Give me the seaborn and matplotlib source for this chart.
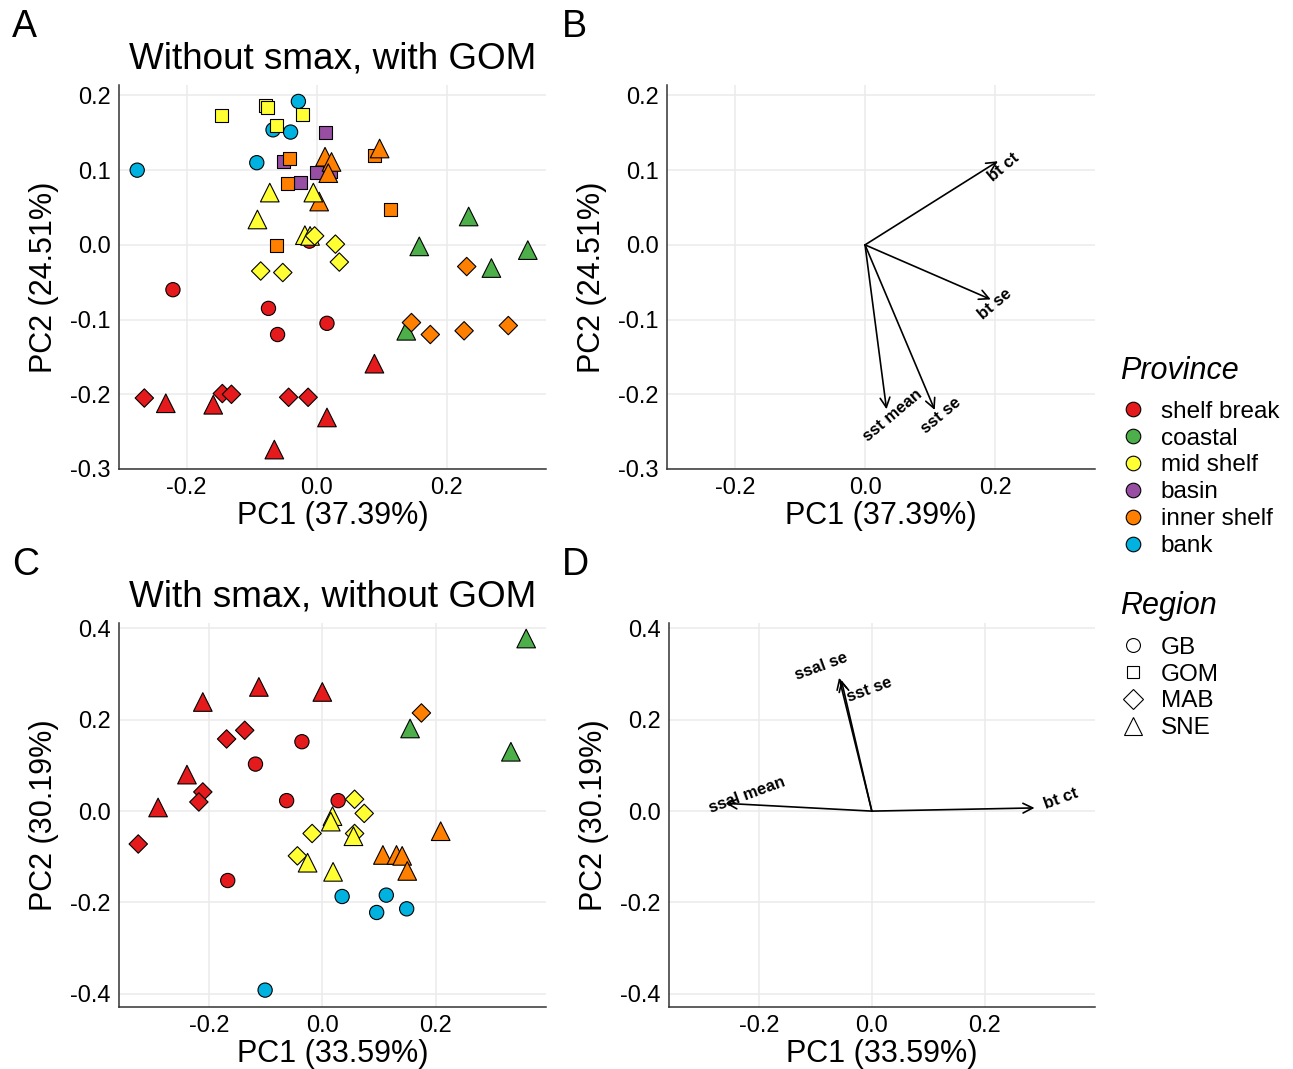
import numpy as np
import pandas as pd
import seaborn as sns
import matplotlib.pyplot as plt
from matplotlib.lines import Line2D

# ---- panel A: scores, without smax, with GOM ----
a_pc1 = [-0.011, -0.221, -0.074, -0.060, 0.016,
         -0.265, -0.145, -0.131, -0.043, -0.013,
         -0.232, -0.159, 0.016, -0.065, 0.089,
         0.234, 0.158, 0.325, 0.269, 0.138,
         -0.028, -0.067, -0.040, -0.276, -0.092,
         0.014, -0.051, -0.025, 0.000, 0.021,
         -0.041, -0.045, 0.089, 0.113, -0.062,
         0.013, 0.023, 0.018, 0.097, 0.004,
         0.231, 0.146, 0.175, 0.227, 0.295,
         -0.147, -0.078, -0.076, -0.062, -0.022,
         -0.072, -0.005, -0.091, -0.018, -0.010,
         -0.003, 0.029, 0.035, -0.086, -0.052]
a_pc2 = [0.005, -0.060, -0.085, -0.120, -0.105,
         -0.205, -0.199, -0.200, -0.204, -0.204,
         -0.212, -0.214, -0.231, -0.274, -0.159,
         0.038, -0.002, -0.007, -0.031, -0.115,
         0.192, 0.154, 0.151, 0.100, 0.110,
         0.150, 0.111, 0.084, 0.097, 0.098,
         0.116, 0.082, 0.119, 0.048, -0.001,
         0.118, 0.111, 0.096, 0.129, 0.058,
         -0.029, -0.104, -0.120, -0.115, -0.108,
         0.173, 0.187, 0.184, 0.160, 0.175,
         0.070, 0.070, 0.034, 0.013, 0.012,
         0.012, 0.001, -0.023, -0.035, -0.037]
a_province = (["shelf break"] * 15 + ["coastal"] * 5 + ["bank"] * 5 + ["basin"] * 5
              + ["inner shelf"] * 15 + ["mid shelf"] * 15)
a_region = (["GB"] * 5 + ["MAB"] * 5 + ["SNE"] * 5 + ["SNE"] * 5 + ["GB"] * 5 + ["GOM"] * 5
            + ["GOM"] * 5 + ["SNE"] * 5 + ["MAB"] * 5
            + ["GOM"] * 5 + ["SNE"] * 5 + ["MAB"] * 5)

# ---- panel C: scores, with smax, without GOM ----
c_pc1 = [-0.036, -0.118, -0.063, 0.028, -0.167,
         -0.137, -0.169, -0.211, -0.218, -0.325,
         -0.112, 0.000, -0.211, -0.239, -0.290,
         0.360, 0.155, 0.333,
         0.035, 0.113, 0.096, 0.149, -0.101,
         0.175,
         0.209, 0.107, 0.131, 0.141, 0.150,
         0.057, 0.074, -0.018, 0.057, -0.044,
         0.018, 0.015, 0.055, -0.026, 0.019]
c_pc2 = [0.152, 0.103, 0.023, 0.023, -0.152,
         0.177, 0.158, 0.042, 0.020, -0.072,
         0.272, 0.261, 0.239, 0.080, 0.008,
         0.378, 0.181, 0.130,
         -0.187, -0.184, -0.222, -0.214, -0.392,
         0.215,
         -0.044, -0.096, -0.096, -0.098, -0.131,
         0.026, -0.005, -0.049, -0.049, -0.098,
         -0.011, -0.023, -0.055, -0.113, -0.133]
c_province = (["shelf break"] * 15 + ["coastal"] * 3 + ["bank"] * 5
              + ["inner shelf"] * 6 + ["mid shelf"] * 10)
c_region = (["GB"] * 5 + ["MAB"] * 5 + ["SNE"] * 5 + ["SNE"] * 3 + ["GB"] * 5
            + ["MAB"] + ["SNE"] * 5 + ["MAB"] * 5 + ["SNE"] * 5)

# ---- panels B and D: loadings ----
b_vars = ["bt ct", "bt se", "sst mean", "sst se"]
b_x = [0.204, 0.193, 0.033, 0.107]
b_y = [0.112, -0.073, -0.220, -0.221]
b_lab_x = [0.213, 0.199, 0.043, 0.116]
b_lab_y = [0.104, -0.079, -0.228, -0.229]

d_vars = ["bt ct", "ssal mean", "ssal se", "sst se"]
d_x = [0.288, -0.259, -0.058, -0.054]
d_y = [0.007, 0.017, 0.292, 0.287]
d_lab_x = [0.335, -0.221, -0.090, -0.004]
d_lab_y = [0.028, 0.035, 0.316, 0.265]

provinces = ["shelf break", "coastal", "mid shelf", "basin", "inner shelf", "bank"]
regions = ["GB", "GOM", "MAB", "SNE"]
palette = {"shelf break": "#E41A1C", "coastal": "#4DAF4A", "mid shelf": "#FFFF33",
           "basin": "#984EA3", "inner shelf": "#FF7F00", "bank": "#00B2E0"}
markers = {"GB": "o", "GOM": "s", "MAB": "D", "SNE": "^"}
msizes = {"GB": 105, "GOM": 88, "MAB": 88, "SNE": 180}

sns.set_style("white")
plt.rcParams["font.family"] = ["Liberation Sans", "DejaVu Sans"]
plt.rcParams["axes.unicode_minus"] = False
plt.rcParams["text.color"] = "black"
plt.rcParams["axes.labelcolor"] = "black"

W, H = 1293, 1069
fig = plt.figure(figsize=(W / 100, H / 100), dpi=100)


def px_axes(left, top, right, bottom):
    return fig.add_axes([left / W, 1 - bottom / H, (right - left) / W, (bottom - top) / H])


def style_axes(ax, xlim, ylim, yticks, xlab, ylab):
    ax.set_xlim(xlim)
    ax.set_ylim(ylim)
    ax.set_xticks([-0.2, 0.0, 0.2])
    ax.set_yticks(yticks)
    ax.set_xticklabels(["%.1f" % v for v in [-0.2, 0.0, 0.2]])
    ax.set_yticklabels(["%.1f" % v for v in yticks])
    ax.grid(True, color="#ebebeb", lw=1.1)
    ax.set_axisbelow(True)
    for s in ["top", "right"]:
        ax.spines[s].set_visible(False)
    for s in ["left", "bottom"]:
        ax.spines[s].set_color("#333333")
        ax.spines[s].set_linewidth(1.1)
    ax.tick_params(length=4, width=1, color="#333333", labelsize=17, labelcolor="black", pad=2)
    ax.set_xlabel(xlab, fontsize=22, labelpad=1)
    ax.set_ylabel(ylab, fontsize=22, labelpad=8)


def scores(ax, pc1, pc2, prov, reg):
    df = pd.DataFrame({"PC1": pc1, "PC2": pc2, "Province": prov, "Region": reg})
    sns.scatterplot(data=df, x="PC1", y="PC2", hue="Province", style="Region", size="Region",
                    palette=palette, markers=markers, sizes=msizes, hue_order=provinces,
                    style_order=regions, size_order=regions,
                    edgecolor="black", linewidth=0.8, alpha=1, legend=False, ax=ax)


def loadings(ax, names, x, y, lx, ly, angle):
    for n, xi, yi, tx, ty in zip(names, x, y, lx, ly):
        ax.annotate("", xy=(xi, yi), xytext=(0, 0),
                    arrowprops=dict(arrowstyle="->,head_length=0.7,head_width=0.35",
                                    lw=1.2, color="black", shrinkA=0, shrinkB=0))
        ax.text(tx, ty, n, rotation=angle, rotation_mode="anchor", ha="center", va="center",
                fontsize=12, fontweight="bold")


lim_a = ((-0.304, 0.353), (-0.300, 0.214))
lim_c = ((-0.359, 0.395), (-0.429, 0.412))
ticks_a = [-0.3, -0.2, -0.1, 0.0, 0.1, 0.2]
ticks_c = [-0.4, -0.2, 0.0, 0.2, 0.4]

axA = px_axes(119, 85, 546, 469)
scores(axA, a_pc1, a_pc2, a_province, a_region)
style_axes(axA, *lim_a, ticks_a, "PC1 (37.39%)", "PC2 (24.51%)")
axA.set_title("Without smax, with GOM", fontsize=26.6, pad=12)

axB = px_axes(667, 85, 1095, 469)
loadings(axB, b_vars, b_x, b_y, b_lab_x, b_lab_y, 40)
style_axes(axB, *lim_a, ticks_a, "PC1 (37.39%)", "PC2 (24.51%)")

axC = px_axes(119, 623, 546, 1007)
scores(axC, c_pc1, c_pc2, c_province, c_region)
style_axes(axC, *lim_c, ticks_c, "PC1 (33.59%)", "PC2 (30.19%)")
axC.set_title("With smax, without GOM", fontsize=26.6, pad=12)

axD = px_axes(669, 623, 1095, 1007)
loadings(axD, d_vars, d_x, d_y, d_lab_x, d_lab_y, 20)
style_axes(axD, *lim_c, ticks_c, "PC1 (33.59%)", "PC2 (30.19%)")

for lab, (x, y) in zip("ABCD", [(12, 27), (562, 27), (12, 565), (562, 565)]):
    fig.text(x / W, 1 - y / H, lab, fontsize=27, va="center", ha="left")

# legends (titles drawn separately so the gap below them can be set)
fig.text(1120 / W, 1 - 371 / H, "Province", fontsize=22, style="italic", va="center", ha="left")
fig.text(1120 / W, 1 - 606 / H, "Region", fontsize=22, style="italic", va="center", ha="left")

prov_handles = [Line2D([], [], marker="o", ls="", markersize=10.5, markerfacecolor=palette[p],
                       markeredgecolor="black", markeredgewidth=0.8) for p in provinces]
fig.legend(prov_handles, provinces, loc="upper left", bbox_to_anchor=(1111 / W, 1 - 391 / H),
           frameon=False, fontsize=17.5, handlelength=1.0, handletextpad=0.65,
           labelspacing=0.2, borderaxespad=0)

reg_sizes = {"GB": 10, "GOM": 9, "MAB": 10, "SNE": 13.5}
reg_handles = [Line2D([], [], marker=markers[r], ls="", markersize=reg_sizes[r], markerfacecolor="white",
                      markeredgecolor="black", markeredgewidth=0.8) for r in regions]
fig.legend(reg_handles, regions, loc="upper left", bbox_to_anchor=(1111 / W, 1 - 627 / H),
           frameon=False, fontsize=17.5, handlelength=1.0, handletextpad=0.65,
           labelspacing=0.2, borderaxespad=0)

fig.savefig("out.png", dpi=100, facecolor="white")
